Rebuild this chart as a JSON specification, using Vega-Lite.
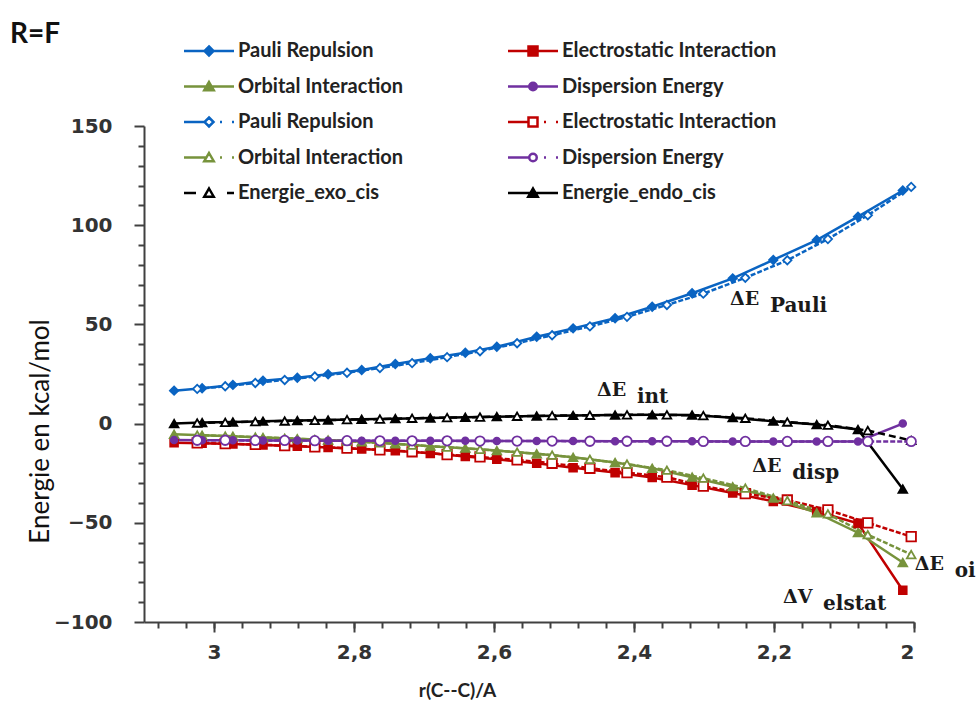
{
  "$schema": "https://vega.github.io/schema/vega-lite/v6.json",
  "width": 770,
  "height": 496,
  "autosize": {"type": "none"},
  "padding": {"left": 144, "top": 126, "right": 65, "bottom": 82},
  "background": "white",
  "title": {"text": "R=F", "anchor": "start", "frame": "group", "font": "Lato", "fontSize": 28, "fontWeight": "bold", "color": "#111111", "dx": -134, "dy": 8, "offset": 0},
  "config": {"view": {"stroke": null}, "axis": {"grid": false}},
  "data": {"values": [
    {"s":"Pauli Repulsion|endo","r":3.057,"E":16.6},{"s":"Pauli Repulsion|endo","r":3.017,"E":17.8},{"s":"Pauli Repulsion|endo","r":2.973,"E":19.5},{"s":"Pauli Repulsion|endo","r":2.930,"E":21.6},{"s":"Pauli Repulsion|endo","r":2.881,"E":23.1},{"s":"Pauli Repulsion|endo","r":2.837,"E":24.9},{"s":"Pauli Repulsion|endo","r":2.789,"E":27.0},{"s":"Pauli Repulsion|endo","r":2.741,"E":30.0},{"s":"Pauli Repulsion|endo","r":2.691,"E":32.9},{"s":"Pauli Repulsion|endo","r":2.641,"E":35.7},{"s":"Pauli Repulsion|endo","r":2.596,"E":38.7},{"s":"Pauli Repulsion|endo","r":2.539,"E":43.8},{"s":"Pauli Repulsion|endo","r":2.487,"E":48.0},{"s":"Pauli Repulsion|endo","r":2.427,"E":53.1},{"s":"Pauli Repulsion|endo","r":2.374,"E":58.9},{"s":"Pauli Repulsion|endo","r":2.317,"E":65.7},{"s":"Pauli Repulsion|endo","r":2.259,"E":73.2},{"s":"Pauli Repulsion|endo","r":2.201,"E":82.5},{"s":"Pauli Repulsion|endo","r":2.139,"E":92.5},{"s":"Pauli Repulsion|endo","r":2.080,"E":104.3},{"s":"Pauli Repulsion|endo","r":2.016,"E":117.5},
    {"s":"Electrostatic Interaction|endo","r":3.057,"E":-9.6},{"s":"Electrostatic Interaction|endo","r":3.017,"E":-9.9},{"s":"Electrostatic Interaction|endo","r":2.973,"E":-10.3},{"s":"Electrostatic Interaction|endo","r":2.930,"E":-10.8},{"s":"Electrostatic Interaction|endo","r":2.881,"E":-11.4},{"s":"Electrostatic Interaction|endo","r":2.837,"E":-12.0},{"s":"Electrostatic Interaction|endo","r":2.789,"E":-12.8},{"s":"Electrostatic Interaction|endo","r":2.741,"E":-13.7},{"s":"Electrostatic Interaction|endo","r":2.691,"E":-15.0},{"s":"Electrostatic Interaction|endo","r":2.641,"E":-16.6},{"s":"Electrostatic Interaction|endo","r":2.596,"E":-18.0},{"s":"Electrostatic Interaction|endo","r":2.539,"E":-20.0},{"s":"Electrostatic Interaction|endo","r":2.487,"E":-22.3},{"s":"Electrostatic Interaction|endo","r":2.427,"E":-24.7},{"s":"Electrostatic Interaction|endo","r":2.374,"E":-27.2},{"s":"Electrostatic Interaction|endo","r":2.317,"E":-31.0},{"s":"Electrostatic Interaction|endo","r":2.259,"E":-35.0},{"s":"Electrostatic Interaction|endo","r":2.201,"E":-39.2},{"s":"Electrostatic Interaction|endo","r":2.139,"E":-44.3},{"s":"Electrostatic Interaction|endo","r":2.080,"E":-50.3},{"s":"Electrostatic Interaction|endo","r":2.016,"E":-84.0},
    {"s":"Orbital Interaction|endo","r":3.057,"E":-5.4},{"s":"Orbital Interaction|endo","r":3.017,"E":-5.9},{"s":"Orbital Interaction|endo","r":2.973,"E":-6.4},{"s":"Orbital Interaction|endo","r":2.930,"E":-7.0},{"s":"Orbital Interaction|endo","r":2.881,"E":-7.6},{"s":"Orbital Interaction|endo","r":2.837,"E":-8.3},{"s":"Orbital Interaction|endo","r":2.789,"E":-9.2},{"s":"Orbital Interaction|endo","r":2.741,"E":-10.2},{"s":"Orbital Interaction|endo","r":2.691,"E":-11.4},{"s":"Orbital Interaction|endo","r":2.641,"E":-12.4},{"s":"Orbital Interaction|endo","r":2.596,"E":-13.6},{"s":"Orbital Interaction|endo","r":2.539,"E":-15.2},{"s":"Orbital Interaction|endo","r":2.487,"E":-17.0},{"s":"Orbital Interaction|endo","r":2.427,"E":-19.6},{"s":"Orbital Interaction|endo","r":2.374,"E":-22.5},{"s":"Orbital Interaction|endo","r":2.317,"E":-27.0},{"s":"Orbital Interaction|endo","r":2.259,"E":-31.8},{"s":"Orbital Interaction|endo","r":2.201,"E":-37.5},{"s":"Orbital Interaction|endo","r":2.139,"E":-45.0},{"s":"Orbital Interaction|endo","r":2.080,"E":-55.0},{"s":"Orbital Interaction|endo","r":2.016,"E":-70.0},
    {"s":"Dispersion Energy|endo","r":3.057,"E":-8.3},{"s":"Dispersion Energy|endo","r":3.017,"E":-8.4},{"s":"Dispersion Energy|endo","r":2.973,"E":-8.4},{"s":"Dispersion Energy|endo","r":2.930,"E":-8.5},{"s":"Dispersion Energy|endo","r":2.881,"E":-8.5},{"s":"Dispersion Energy|endo","r":2.837,"E":-8.6},{"s":"Dispersion Energy|endo","r":2.789,"E":-8.6},{"s":"Dispersion Energy|endo","r":2.741,"E":-8.7},{"s":"Dispersion Energy|endo","r":2.691,"E":-8.7},{"s":"Dispersion Energy|endo","r":2.641,"E":-8.7},{"s":"Dispersion Energy|endo","r":2.596,"E":-8.8},{"s":"Dispersion Energy|endo","r":2.539,"E":-8.8},{"s":"Dispersion Energy|endo","r":2.487,"E":-8.8},{"s":"Dispersion Energy|endo","r":2.427,"E":-8.9},{"s":"Dispersion Energy|endo","r":2.374,"E":-8.9},{"s":"Dispersion Energy|endo","r":2.317,"E":-8.9},{"s":"Dispersion Energy|endo","r":2.259,"E":-9.0},{"s":"Dispersion Energy|endo","r":2.201,"E":-9.0},{"s":"Dispersion Energy|endo","r":2.139,"E":-9.0},{"s":"Dispersion Energy|endo","r":2.080,"E":-9.0},{"s":"Dispersion Energy|endo","r":2.016,"E":0.0},
    {"s":"Energie_endo_cis","r":3.057,"E":0.0},{"s":"Energie_endo_cis","r":3.017,"E":0.5},{"s":"Energie_endo_cis","r":2.973,"E":0.8},{"s":"Energie_endo_cis","r":2.930,"E":1.2},{"s":"Energie_endo_cis","r":2.881,"E":1.5},{"s":"Energie_endo_cis","r":2.837,"E":1.8},{"s":"Energie_endo_cis","r":2.789,"E":2.2},{"s":"Energie_endo_cis","r":2.741,"E":2.5},{"s":"Energie_endo_cis","r":2.691,"E":2.8},{"s":"Energie_endo_cis","r":2.641,"E":3.2},{"s":"Energie_endo_cis","r":2.596,"E":3.5},{"s":"Energie_endo_cis","r":2.539,"E":3.8},{"s":"Energie_endo_cis","r":2.487,"E":4.1},{"s":"Energie_endo_cis","r":2.427,"E":4.3},{"s":"Energie_endo_cis","r":2.374,"E":4.4},{"s":"Energie_endo_cis","r":2.317,"E":4.3},{"s":"Energie_endo_cis","r":2.259,"E":3.0},{"s":"Energie_endo_cis","r":2.201,"E":1.2},{"s":"Energie_endo_cis","r":2.139,"E":-0.5},{"s":"Energie_endo_cis","r":2.080,"E":-3.0},{"s":"Energie_endo_cis","r":2.016,"E":-33.0},
    {"s":"Pauli Repulsion|exo","r":3.024,"E":17.5},{"s":"Pauli Repulsion|exo","r":2.984,"E":18.8},{"s":"Pauli Repulsion|exo","r":2.941,"E":20.5},{"s":"Pauli Repulsion|exo","r":2.899,"E":22.0},{"s":"Pauli Repulsion|exo","r":2.856,"E":23.7},{"s":"Pauli Repulsion|exo","r":2.810,"E":25.6},{"s":"Pauli Repulsion|exo","r":2.763,"E":28.0},{"s":"Pauli Repulsion|exo","r":2.717,"E":30.5},{"s":"Pauli Repulsion|exo","r":2.667,"E":33.5},{"s":"Pauli Repulsion|exo","r":2.620,"E":36.5},{"s":"Pauli Repulsion|exo","r":2.567,"E":40.5},{"s":"Pauli Repulsion|exo","r":2.517,"E":44.5},{"s":"Pauli Repulsion|exo","r":2.463,"E":49.0},{"s":"Pauli Repulsion|exo","r":2.410,"E":53.8},{"s":"Pauli Repulsion|exo","r":2.353,"E":59.8},{"s":"Pauli Repulsion|exo","r":2.301,"E":65.5},{"s":"Pauli Repulsion|exo","r":2.241,"E":73.5},{"s":"Pauli Repulsion|exo","r":2.181,"E":82.3},{"s":"Pauli Repulsion|exo","r":2.123,"E":93.0},{"s":"Pauli Repulsion|exo","r":2.066,"E":105.0},{"s":"Pauli Repulsion|exo","r":2.004,"E":119.3},
    {"s":"Electrostatic Interaction|exo","r":3.024,"E":-9.7},{"s":"Electrostatic Interaction|exo","r":2.984,"E":-10.1},{"s":"Electrostatic Interaction|exo","r":2.941,"E":-10.5},{"s":"Electrostatic Interaction|exo","r":2.899,"E":-11.1},{"s":"Electrostatic Interaction|exo","r":2.856,"E":-11.7},{"s":"Electrostatic Interaction|exo","r":2.810,"E":-12.4},{"s":"Electrostatic Interaction|exo","r":2.763,"E":-13.2},{"s":"Electrostatic Interaction|exo","r":2.717,"E":-14.2},{"s":"Electrostatic Interaction|exo","r":2.667,"E":-15.6},{"s":"Electrostatic Interaction|exo","r":2.620,"E":-16.8},{"s":"Electrostatic Interaction|exo","r":2.567,"E":-18.3},{"s":"Electrostatic Interaction|exo","r":2.517,"E":-20.0},{"s":"Electrostatic Interaction|exo","r":2.463,"E":-22.5},{"s":"Electrostatic Interaction|exo","r":2.410,"E":-24.7},{"s":"Electrostatic Interaction|exo","r":2.353,"E":-27.0},{"s":"Electrostatic Interaction|exo","r":2.301,"E":-31.5},{"s":"Electrostatic Interaction|exo","r":2.241,"E":-35.3},{"s":"Electrostatic Interaction|exo","r":2.181,"E":-38.5},{"s":"Electrostatic Interaction|exo","r":2.123,"E":-43.5},{"s":"Electrostatic Interaction|exo","r":2.066,"E":-50.0},{"s":"Electrostatic Interaction|exo","r":2.004,"E":-57.0},
    {"s":"Orbital Interaction|exo","r":3.024,"E":-5.8},{"s":"Orbital Interaction|exo","r":2.984,"E":-6.3},{"s":"Orbital Interaction|exo","r":2.941,"E":-6.8},{"s":"Orbital Interaction|exo","r":2.899,"E":-7.4},{"s":"Orbital Interaction|exo","r":2.856,"E":-8.0},{"s":"Orbital Interaction|exo","r":2.810,"E":-8.8},{"s":"Orbital Interaction|exo","r":2.763,"E":-9.7},{"s":"Orbital Interaction|exo","r":2.717,"E":-10.8},{"s":"Orbital Interaction|exo","r":2.667,"E":-11.9},{"s":"Orbital Interaction|exo","r":2.620,"E":-13.0},{"s":"Orbital Interaction|exo","r":2.567,"E":-14.4},{"s":"Orbital Interaction|exo","r":2.517,"E":-15.9},{"s":"Orbital Interaction|exo","r":2.463,"E":-18.0},{"s":"Orbital Interaction|exo","r":2.410,"E":-20.4},{"s":"Orbital Interaction|exo","r":2.353,"E":-23.5},{"s":"Orbital Interaction|exo","r":2.301,"E":-27.5},{"s":"Orbital Interaction|exo","r":2.241,"E":-32.5},{"s":"Orbital Interaction|exo","r":2.181,"E":-38.8},{"s":"Orbital Interaction|exo","r":2.123,"E":-45.5},{"s":"Orbital Interaction|exo","r":2.066,"E":-56.0},{"s":"Orbital Interaction|exo","r":2.004,"E":-66.0},
    {"s":"Dispersion Energy|exo","r":3.024,"E":-8.4},{"s":"Dispersion Energy|exo","r":2.984,"E":-8.4},{"s":"Dispersion Energy|exo","r":2.941,"E":-8.5},{"s":"Dispersion Energy|exo","r":2.899,"E":-8.5},{"s":"Dispersion Energy|exo","r":2.856,"E":-8.6},{"s":"Dispersion Energy|exo","r":2.810,"E":-8.6},{"s":"Dispersion Energy|exo","r":2.763,"E":-8.7},{"s":"Dispersion Energy|exo","r":2.717,"E":-8.7},{"s":"Dispersion Energy|exo","r":2.667,"E":-8.7},{"s":"Dispersion Energy|exo","r":2.620,"E":-8.8},{"s":"Dispersion Energy|exo","r":2.567,"E":-8.8},{"s":"Dispersion Energy|exo","r":2.517,"E":-8.8},{"s":"Dispersion Energy|exo","r":2.463,"E":-8.9},{"s":"Dispersion Energy|exo","r":2.410,"E":-8.9},{"s":"Dispersion Energy|exo","r":2.353,"E":-8.9},{"s":"Dispersion Energy|exo","r":2.301,"E":-9.0},{"s":"Dispersion Energy|exo","r":2.241,"E":-9.0},{"s":"Dispersion Energy|exo","r":2.181,"E":-9.0},{"s":"Dispersion Energy|exo","r":2.123,"E":-9.0},{"s":"Dispersion Energy|exo","r":2.066,"E":-9.0},{"s":"Dispersion Energy|exo","r":2.004,"E":-9.0},
    {"s":"Energie_exo_cis","r":3.024,"E":0.3},{"s":"Energie_exo_cis","r":2.984,"E":0.6},{"s":"Energie_exo_cis","r":2.941,"E":1.0},{"s":"Energie_exo_cis","r":2.899,"E":1.3},{"s":"Energie_exo_cis","r":2.856,"E":1.6},{"s":"Energie_exo_cis","r":2.810,"E":2.0},{"s":"Energie_exo_cis","r":2.763,"E":2.3},{"s":"Energie_exo_cis","r":2.717,"E":2.7},{"s":"Energie_exo_cis","r":2.667,"E":3.0},{"s":"Energie_exo_cis","r":2.620,"E":3.3},{"s":"Energie_exo_cis","r":2.567,"E":3.7},{"s":"Energie_exo_cis","r":2.517,"E":4.0},{"s":"Energie_exo_cis","r":2.463,"E":4.2},{"s":"Energie_exo_cis","r":2.410,"E":4.4},{"s":"Energie_exo_cis","r":2.353,"E":4.4},{"s":"Energie_exo_cis","r":2.301,"E":4.0},{"s":"Energie_exo_cis","r":2.241,"E":2.7},{"s":"Energie_exo_cis","r":2.181,"E":0.8},{"s":"Energie_exo_cis","r":2.123,"E":-0.8},{"s":"Energie_exo_cis","r":2.066,"E":-3.5},{"s":"Energie_exo_cis","r":2.004,"E":-8.5}
  ]},
  "layer": [
    {
      "transform": [{"filter": {"field": "s", "oneOf": ["Pauli Repulsion|endo", "Electrostatic Interaction|endo", "Orbital Interaction|endo", "Dispersion Energy|endo", "Energie_endo_cis"]}}],
      "mark": {"type": "line", "strokeWidth": 2.5},
      "encoding": {
        "x": {"field": "r", "type": "quantitative",
          "scale": {"domain": [2, 3.1], "reverse": true, "nice": false, "zero": false},
          "axis": {"orient": "bottom", "values": [2, 2.2, 2.4, 2.6, 2.8, 3], "labelExpr": "replace(format(datum.value, '~g'), '.', ',')",
            "labelFont": "DejaVu Sans", "labelFontWeight": "bold", "labelFontSize": 20, "labelColor": "#333333", "labelPadding": 10,
            "tickSize": 10, "tickWidth": 2, "tickColor": "#404040", "domainColor": "#404040", "domainWidth": 2,
            "title": "r(C--C)/A", "titleFont": "Lato", "titleFontSize": 19, "titleFontWeight": "bold", "titleColor": "#222222",
            "titleX": 313, "titleY": 68, "titleAlign": "center", "titleBaseline": "middle"}},
        "y": {"field": "E", "type": "quantitative",
          "scale": {"domain": [-100, 150], "nice": false, "zero": false},
          "axis": {"orient": "left", "values": [-100, -50, 0, 50, 100, 150],
            "labelFont": "DejaVu Sans", "labelFontWeight": "bold", "labelFontSize": 20, "labelColor": "#333333", "labelPadding": 22,
            "tickSize": 10, "tickWidth": 2, "tickColor": "#404040", "domainColor": "#404040", "domainWidth": 2,
            "title": "Energie en kcal/mol", "titleFont": "Lato", "titleFontSize": 26, "titleFontWeight": "normal", "titleColor": "#111111",
            "titleAngle": -90, "titleX": -104, "titleY": 305, "titleAlign": "center", "titleBaseline": "middle"}},
        "color": {"field": "s", "type": "nominal",
          "scale": {
            "domain": ["Pauli Repulsion|endo", "Electrostatic Interaction|endo", "Orbital Interaction|endo", "Dispersion Energy|endo", "Pauli Repulsion|exo", "Electrostatic Interaction|exo", "Orbital Interaction|exo", "Dispersion Energy|exo", "Energie_exo_cis", "Energie_endo_cis"],
            "range": ["#0a64c2", "#c00000", "#77933c", "#7030a0", "#0a64c2", "#c00000", "#77933c", "#7030a0", "#000000", "#000000"]},
          "legend": {
            "orient": "none", "legendX": 39, "legendY": -85, "columns": 2, "direction": "horizontal", "title": null, "padding": 0,
            "rowPadding": 15.5, "columnPadding": 99,
            "symbolSize": 100, "symbolOffset": 16, "labelOffset": 19, "symbolStrokeWidth": 2.5, "symbolOpacity": 1,
            "labelFont": "Lato", "labelFontSize": 20, "labelFontWeight": "bold", "labelColor": "#222222", "labelLimit": 300,
            "labelExpr": "split(datum.label, '|')[0]"
          }}
      }
    },
    {
      "transform": [{"filter": {"field": "s", "oneOf": ["Pauli Repulsion|exo", "Electrostatic Interaction|exo", "Orbital Interaction|exo", "Dispersion Energy|exo"]}}],
      "mark": {"type": "line", "strokeWidth": 2.5, "strokeDash": [5, 2]},
      "encoding": {
        "x": {"field": "r", "type": "quantitative", "axis": null},
        "y": {"field": "E", "type": "quantitative", "axis": null},
        "color": {"field": "s", "type": "nominal"}
      }
    },
    {
      "transform": [{"filter": {"field": "s", "equal": "Energie_exo_cis"}}],
      "mark": {"type": "line", "strokeWidth": 2.5, "strokeDash": [7, 4]},
      "encoding": {
        "x": {"field": "r", "type": "quantitative", "axis": null},
        "y": {"field": "E", "type": "quantitative", "axis": null},
        "color": {"field": "s", "type": "nominal"}
      }
    },
    {
      "transform": [{"filter": {"field": "s", "oneOf": ["Pauli Repulsion|endo", "Pauli Repulsion|exo"]}}],
      "mark": {"type": "point", "shape": "diamond", "size": 70, "filled": true, "opacity": 1, "strokeWidth": 1.8},
      "encoding": {
        "x": {"field": "r", "type": "quantitative",
          "axis": {"orient": "bottom", "values": [3.08, 3.04, 3, 2.96, 2.92, 2.88, 2.84, 2.8, 2.76, 2.72, 2.68, 2.64, 2.6, 2.56, 2.52, 2.48, 2.44, 2.4, 2.36, 2.32, 2.28, 2.24, 2.2, 2.16, 2.12, 2.08, 2.04, 2],
            "labels": false, "domain": false, "tickSize": 6, "tickWidth": 2, "tickColor": "#404040", "title": null, "grid": false}},
        "y": {"field": "E", "type": "quantitative",
          "axis": {"orient": "left", "values": [-90, -80, -70, -60, -40, -30, -20, -10, 10, 20, 30, 40, 60, 70, 80, 90, 110, 120, 130, 140],
            "labels": false, "domain": false, "tickSize": 6, "tickWidth": 2, "tickColor": "#404040", "title": null, "grid": false}},
        "stroke": {"field": "s", "type": "nominal",
          "scale": {
            "domain": ["Pauli Repulsion|endo", "Electrostatic Interaction|endo", "Orbital Interaction|endo", "Dispersion Energy|endo", "Pauli Repulsion|exo", "Electrostatic Interaction|exo", "Orbital Interaction|exo", "Dispersion Energy|exo", "Energie_exo_cis", "Energie_endo_cis"],
            "range": ["#0a64c2", "#c00000", "#77933c", "#7030a0", "#0a64c2", "#c00000", "#77933c", "#7030a0", "#000000", "#000000"]},
          "legend": null},
        "fill": {"field": "s", "type": "nominal",
          "scale": {
            "domain": ["Pauli Repulsion|endo", "Electrostatic Interaction|endo", "Orbital Interaction|endo", "Dispersion Energy|endo", "Pauli Repulsion|exo", "Electrostatic Interaction|exo", "Orbital Interaction|exo", "Dispersion Energy|exo", "Energie_exo_cis", "Energie_endo_cis"],
            "range": ["#0a64c2", "#c00000", "#77933c", "#7030a0", "#ffffff", "#ffffff", "#ffffff", "#ffffff", "#ffffff", "#000000"]},
          "legend": null}
      }
    },
    {
      "transform": [{"filter": {"field": "s", "equal": "Electrostatic Interaction|endo"}}],
      "mark": {"type": "point", "shape": "square", "size": 60, "filled": true, "opacity": 1, "strokeWidth": 1.8},
      "encoding": {
        "x": {"field": "r", "type": "quantitative", "axis": null},
        "y": {"field": "E", "type": "quantitative", "axis": null},
        "stroke": {"field": "s", "type": "nominal", "legend": null},
        "fill": {"field": "s", "type": "nominal", "legend": null}
      }
    },
    {
      "transform": [{"filter": {"field": "s", "equal": "Electrostatic Interaction|exo"}}],
      "mark": {"type": "point", "shape": "square", "size": 90, "filled": true, "opacity": 1, "strokeWidth": 1.8},
      "encoding": {
        "x": {"field": "r", "type": "quantitative", "axis": null},
        "y": {"field": "E", "type": "quantitative", "axis": null},
        "stroke": {"field": "s", "type": "nominal", "legend": null},
        "fill": {"field": "s", "type": "nominal", "legend": null}
      }
    },
    {
      "transform": [{"filter": {"field": "s", "oneOf": ["Orbital Interaction|endo", "Orbital Interaction|exo", "Energie_exo_cis", "Energie_endo_cis"]}}],
      "mark": {"type": "point", "shape": "triangle-up", "size": 75, "filled": true, "opacity": 1, "strokeWidth": 1.8},
      "encoding": {
        "x": {"field": "r", "type": "quantitative", "axis": null},
        "y": {"field": "E", "type": "quantitative", "axis": null},
        "stroke": {"field": "s", "type": "nominal", "legend": null},
        "fill": {"field": "s", "type": "nominal", "legend": null}
      }
    },
    {
      "transform": [{"filter": {"field": "s", "equal": "Dispersion Energy|endo"}}],
      "mark": {"type": "point", "shape": "circle", "size": 45, "filled": true, "opacity": 1, "strokeWidth": 1.8},
      "encoding": {
        "x": {"field": "r", "type": "quantitative", "axis": null},
        "y": {"field": "E", "type": "quantitative", "axis": null},
        "stroke": {"field": "s", "type": "nominal", "legend": null},
        "fill": {"field": "s", "type": "nominal", "legend": null}
      }
    },
    {
      "transform": [{"filter": {"field": "s", "equal": "Dispersion Energy|exo"}}],
      "mark": {"type": "point", "shape": "circle", "size": 90, "filled": true, "opacity": 1, "strokeWidth": 1.8},
      "encoding": {
        "x": {"field": "r", "type": "quantitative", "axis": null},
        "y": {"field": "E", "type": "quantitative", "axis": null},
        "stroke": {"field": "s", "type": "nominal", "legend": null},
        "fill": {"field": "s", "type": "nominal", "legend": null}
      }
    },
    {
      "transform": [{"filter": "false"}],
      "mark": {"type": "point", "filled": true, "opacity": 1},
      "encoding": {
        "x": {"field": "r", "type": "quantitative", "axis": null},
        "y": {"field": "E", "type": "quantitative", "axis": null},
        "shape": {"field": "s", "type": "nominal",
          "scale": {
            "domain": ["Pauli Repulsion|endo", "Electrostatic Interaction|endo", "Orbital Interaction|endo", "Dispersion Energy|endo", "Pauli Repulsion|exo", "Electrostatic Interaction|exo", "Orbital Interaction|exo", "Dispersion Energy|exo", "Energie_exo_cis", "Energie_endo_cis"],
            "range": ["M-5,0H5M0,-0.9L0.9,0L0,0.9L-0.9,0Z", "M-5,0H5M-0.9,-0.9H0.9V0.9H-0.9Z", "M-5,0H5M0,-0.9L0.95,0.75H-0.95Z", "M-5,0H5M-0.75,0A0.75,0.75,0,1,0,0.75,0A0.75,0.75,0,1,0,-0.75,0Z", "M-5,0H-0.9M0,-0.9L0.9,0L0,0.9L-0.9,0ZM2.2,0H2.6M4.6,0H5", "M-5,0H-0.9M-0.9,-0.9H0.9V0.9H-0.9ZM2.2,0H2.6M4.6,0H5", "M-5,0H-0.55M0,-0.9L0.95,0.75H-0.95ZM2.2,0H2.6M4.6,0H5", "M-5,0H-0.75M-0.75,0A0.75,0.75,0,1,0,0.75,0A0.75,0.75,0,1,0,-0.75,0ZM2.2,0H2.6M4.6,0H5", "M-5,0H-2.6M0,-0.9L0.95,0.75H-0.95ZM3.6,0H5", "M-5,0H5M0,-0.9L0.95,0.75H-0.95Z"]},
          "legend": null}
      }
    },
    {
      "data": {"values": [
        {"r": 2.263, "E": 59.8, "main": "ΔE", "sub": "Pauli"},
        {"r": 2.453, "E": 13.9, "main": "ΔE", "sub": "int"},
        {"r": 2.231, "E": -24.4, "main": "ΔE", "sub": "disp"},
        {"r": 1.999, "E": -73.8, "main": "ΔE", "sub": "oi"},
        {"r": 2.187, "E": -90.4, "main": "ΔV", "sub": "elstat"}
      ]},
      "layer": [
        {
          "mark": {"type": "text", "font": "DejaVu Serif", "fontWeight": "bold", "fontSize": 19, "align": "left", "baseline": "alphabetic", "color": "#1a1a1a"},
          "encoding": {
            "x": {"field": "r", "type": "quantitative", "axis": null},
            "y": {"field": "E", "type": "quantitative", "axis": null},
            "text": {"field": "main"}
          }
        },
        {
          "mark": {"type": "text", "font": "DejaVu Serif", "fontWeight": "bold", "fontSize": 20, "align": "left", "baseline": "alphabetic", "color": "#1a1a1a", "dx": 40, "dy": 7},
          "encoding": {
            "x": {"field": "r", "type": "quantitative", "axis": null},
            "y": {"field": "E", "type": "quantitative", "axis": null},
            "text": {"field": "sub"}
          }
        }
      ]
    }
  ],
  "resolve": {"axis": {"x": "independent", "y": "independent"}}
}
